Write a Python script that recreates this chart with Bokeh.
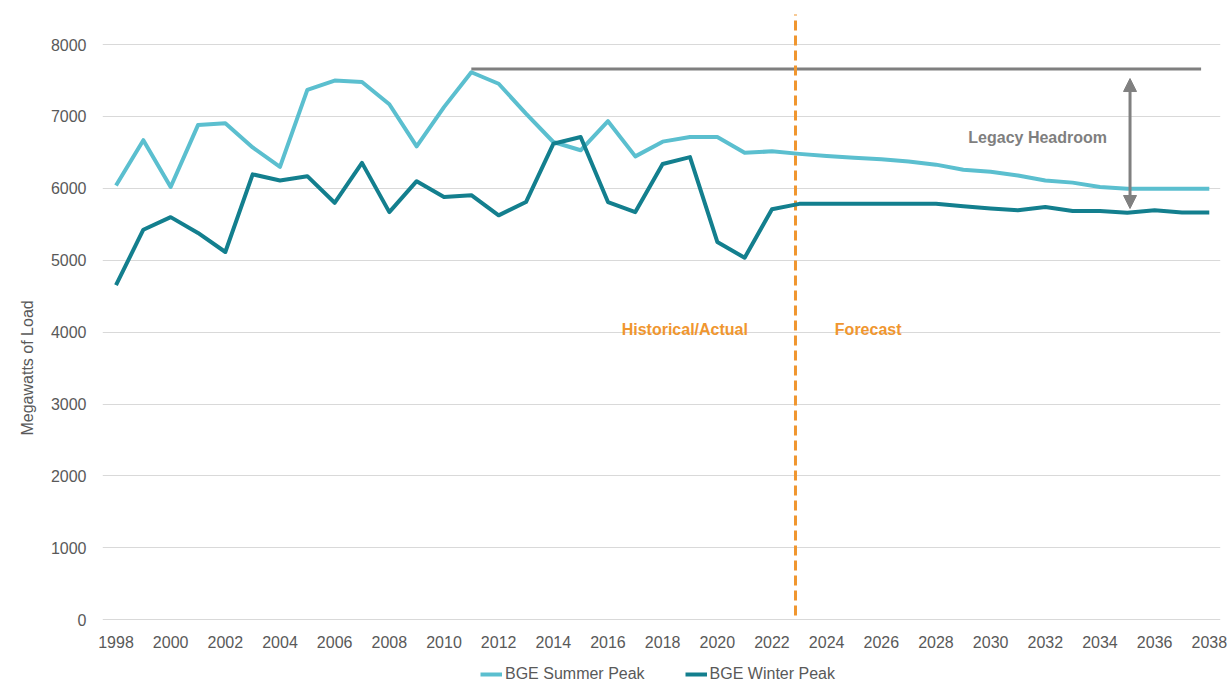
from bokeh.plotting import figure
from bokeh.layouts import column
from bokeh.models import (ColumnDataSource, FixedTicker, Legend, LegendItem, Label,
                          Arrow, NormalHead, Range1d, Title)
from bokeh.embed import file_html
from bokeh.resources import INLINE

# ---------------- data ----------------
years = list(range(1998, 2039))
summer_peak = [6040, 6670, 6020, 6880, 6905, 6570, 6300, 7370, 7500, 7480,
               7170, 6585, 7130, 7615, 7455, 7040, 6645, 6530, 6935, 6445,
               6650, 6715, 6715, 6495, 6515, 6480, 6450, 6425, 6405, 6375,
               6330, 6260, 6230, 6180, 6110, 6080, 6020, 5995, 5995, 5995, 5995]
winter_peak = [4655, 5425, 5600, 5380, 5115, 6195, 6110, 6170, 5800, 6355,
               5670, 6100, 5880, 5905, 5625, 5810, 6620, 6715, 5810, 5670,
               6340, 6435, 5255, 5035, 5710, 5785, 5785, 5785, 5785, 5785,
               5785, 5750, 5720, 5695, 5740, 5685, 5685, 5660, 5695, 5665, 5665]
series_names = ["BGE Summer Peak", "BGE Winter Peak"]
x_tick_labels = list(range(1998, 2039, 2))
y_tick_values = [0, 1000, 2000, 3000, 4000, 5000, 6000, 7000, 8000]

# annotation values
legacy_peak_start = [2011]
legacy_peak_end = [2037.7]
legacy_peak_value = [7660]
forecast_boundary = [2022.86]
boundary_low = [60]
boundary_high = [8420]
headroom_year = 2035.1
headroom_low = 5720
headroom_high = 7528

SUMMER = "#5bbfcf"
WINTER = "#137f8e"
ORANGE = "#f0962f"
GRAY = "#808080"
TEXT = "#595959"
FONT = "Liberation Sans"

src = ColumnDataSource(dict(year=years, summer=summer_peak, winter=winter_peak))

p = figure(frame_width=1118, frame_height=610,
           x_range=Range1d(1997.506, 2038.41), y_range=Range1d(-10, 8474),
           output_backend="svg", toolbar_location=None,
           min_border_left=102, min_border_right=10, min_border_top=10, min_border_bottom=45)
p.outline_line_color = None
p.background_fill_color = "white"
p.xgrid.grid_line_color = None
p.ygrid.grid_line_color = "#d9d9d9"
p.ygrid.grid_line_width = 1

for ax in (p.xaxis[0], p.yaxis[0]):
    ax.axis_line_color = None
    ax.major_tick_line_color = None
    ax.minor_tick_line_color = None
    ax.major_tick_out = 0
    ax.major_tick_in = 0
    ax.minor_tick_out = 0
    ax.major_label_text_font = FONT
    ax.major_label_text_font_size = "16px"
    ax.major_label_text_color = TEXT

p.xaxis.ticker = FixedTicker(ticks=x_tick_labels)
p.yaxis.ticker = FixedTicker(ticks=y_tick_values)
p.xaxis.major_label_standoff = 15
p.yaxis.major_label_standoff = 16

# y axis title (placed in the left panel, shifted down like the reference)
p.add_layout(Title(text="Megawatts of Load", align="left", offset=185, standoff=23,
                   text_font=FONT, text_font_size="16px", text_font_style="normal",
                   text_color=TEXT), "left")

# legacy peak line
p.segment(x0=legacy_peak_start, y0=legacy_peak_value, x1=legacy_peak_end, y1=legacy_peak_value,
          line_color="#7f7f7f", line_width=3)

# forecast boundary
p.segment(x0=forecast_boundary, y0=boundary_low, x1=forecast_boundary, y1=boundary_high,
          line_color=ORANGE, line_width=3, line_dash="10 5")

r_sum = p.line("year", "summer", source=src, line_color=SUMMER, line_width=4, line_join="round")
r_win = p.line("year", "winter", source=src, line_color=WINTER, line_width=4, line_join="round")

# headroom arrow
p.add_layout(Arrow(start=NormalHead(size=13, fill_color=GRAY, line_color=GRAY),
                   end=NormalHead(size=13, fill_color=GRAY, line_color=GRAY),
                   x_start=headroom_year, y_start=headroom_low,
                   x_end=headroom_year, y_end=headroom_high,
                   line_color=GRAY, line_width=3))

p.add_layout(Label(x=2031.72, y=6711, text="Legacy Headroom", text_align="center",
                   text_baseline="middle", text_font=FONT, text_font_size="16px",
                   text_font_style="bold", text_color="#7f7f7f"))
p.add_layout(Label(x=2018.81, y=4040, text="Historical/Actual", text_align="center",
                   text_baseline="middle", text_font=FONT, text_font_size="16px",
                   text_font_style="bold", text_color=ORANGE))
p.add_layout(Label(x=2025.52, y=4040, text="Forecast", text_align="center",
                   text_baseline="middle", text_font=FONT, text_font_size="16px",
                   text_font_style="bold", text_color=ORANGE))

# ---------------- legend strip below the chart ----------------
lg = figure(width=1230, height=18, x_range=Range1d(0, 1), y_range=Range1d(0, 1),
            output_backend="svg", toolbar_location=None,
            x_axis_type=None, y_axis_type=None, min_border=0)
lg.outline_line_color = None
lg.grid.visible = False
# same series styles (data lie outside this strip's ranges, only used for the legend swatches)
l_sum = lg.line("year", "summer", source=src, line_color=SUMMER, line_width=4)
l_win = lg.line("year", "winter", source=src, line_color=WINTER, line_width=4)

legend = Legend(items=[LegendItem(label=series_names[0], renderers=[l_sum]),
                       LegendItem(label=series_names[1], renderers=[l_win])],
                orientation="horizontal", location=(378, 0),
                padding=0, margin=0, spacing=40, glyph_width=22, glyph_height=18,
                label_height=18, label_standoff=3, label_text_font=FONT,
                label_text_font_size="16px", label_text_color=TEXT,
                background_fill_alpha=0, border_line_color=None)
lg.add_layout(legend, "center")

layout = column(p, lg, spacing=0)
open("out.html", "w").write(file_html(layout, INLINE))
